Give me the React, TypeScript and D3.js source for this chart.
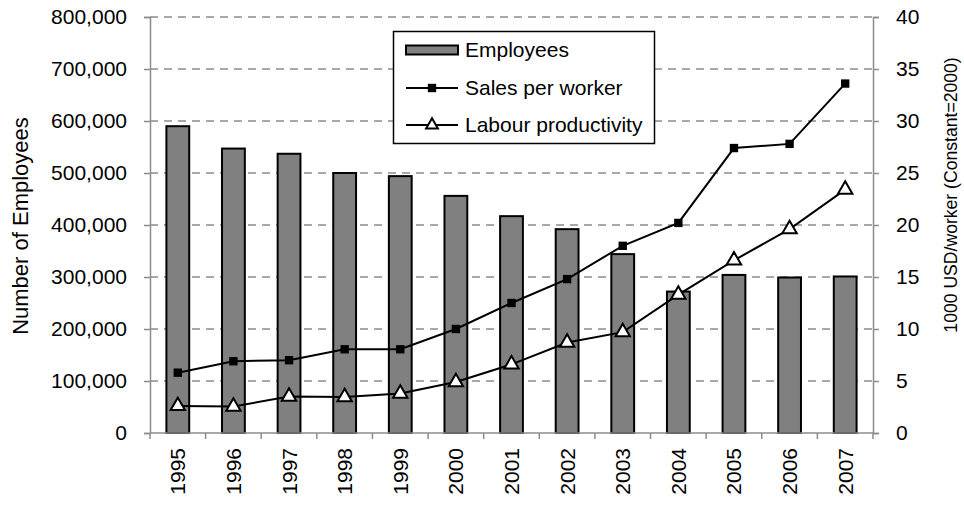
import React, { useEffect, useRef } from "react";
import * as d3 from "d3";

const years = ["1995","1996","1997","1998","1999","2000","2001","2002","2003","2004","2005","2006","2007"];
const employees = [590000, 547000, 537000, 500000, 494000, 456000, 417000, 392000, 344000, 272000, 304000, 299000, 301000];
const salesPerWorker = [5.8, 6.9, 7.0, 8.05, 8.05, 10.0, 12.5, 14.8, 18.0, 20.2, 27.4, 27.8, 33.6];
const labourProductivity = [2.6, 2.55, 3.5, 3.45, 3.8, 4.9, 6.6, 8.7, 9.7, 13.3, 16.6, 19.6, 23.4];
const leftTicks = [0, 100000, 200000, 300000, 400000, 500000, 600000, 700000, 800000];
const rightTicks = [0, 5, 10, 15, 20, 25, 30, 35, 40];

const W = 964, H = 507;
const M = { left: 150, right: 873, top: 17, bottom: 433 };
const FONT = "'Liberation Sans', Arial, sans-serif";
const FS = 21;

export default function App() {
  const ref = useRef<SVGSVGElement>(null);
  useEffect(() => {
    const svg = d3.select(ref.current);
    svg.selectAll("*").remove();
    const x = d3.scaleBand<string>().domain(years).range([M.left, M.right]).paddingInner(0).paddingOuter(0);
    const yL = d3.scaleLinear().domain([0, 800000]).range([M.bottom, M.top]);
    const yR = d3.scaleLinear().domain([0, 40]).range([M.bottom, M.top]);
    const bw = x.bandwidth() * 0.41;
    const cx = (d: string) => (x(d) as number) + x.bandwidth() / 2;

    // gridlines
    svg.append("g").selectAll("line").data(leftTicks.filter(t => t > 0)).join("line")
      .attr("x1", M.left).attr("x2", M.right)
      .attr("y1", d => yL(d)).attr("y2", d => yL(d))
      .attr("stroke", "#8c8c8c").attr("stroke-width", 1.5).attr("stroke-dasharray", "8,6");

    // bars
    svg.append("g").selectAll("rect").data(years).join("rect")
      .attr("x", d => cx(d) - bw / 2).attr("width", bw)
      .attr("y", (d, i) => yL(employees[i])).attr("height", (d, i) => M.bottom - yL(employees[i]))
      .attr("fill", "#808080").attr("stroke", "#000").attr("stroke-width", 2);

    // axes
    const axisColor = "#8c8c8c";
    const left = svg.append("g").attr("transform", `translate(${M.left},0)`)
      .call(d3.axisLeft(yL).tickValues(leftTicks).tickSize(6).tickPadding(17).tickFormat(d3.format(",")));
    const right = svg.append("g").attr("transform", `translate(${M.right},0)`)
      .call(d3.axisRight(yR).tickValues(rightTicks).tickSize(6).tickPadding(17));
    const bottom = svg.append("g").attr("transform", `translate(0,${M.bottom})`)
      .call(d3.axisBottom(x).tickSize(0).tickFormat(() => ""));
    // category boundary ticks
    const bounds = years.map(d => x(d) as number).concat([M.right]);
    svg.append("g").selectAll("line").data(bounds).join("line")
      .attr("x1", d => d).attr("x2", d => d).attr("y1", M.bottom).attr("y2", M.bottom + 6)
      .attr("stroke", axisColor).attr("stroke-width", 1.5);
    [left, right, bottom].forEach(g => {
      g.select(".domain").attr("stroke", axisColor).attr("stroke-width", 1.5);
      g.selectAll(".tick line").attr("stroke", axisColor).attr("stroke-width", 1.5);
      g.selectAll("text").attr("font-family", FONT).attr("font-size", FS).attr("fill", "#000");
    });
    bottom.select(".domain").attr("d", `M${M.left},0H${M.right}`);

    // year labels
    svg.append("g").selectAll("text").data(years).join("text")
      .attr("transform", d => `translate(${cx(d) + 7.5},${M.bottom + 15}) rotate(-90)`)
      .attr("text-anchor", "end").attr("font-family", FONT).attr("font-size", FS).text(d => d);

    // lines
    const lineGen = (vals: number[]) => d3.line<number>().x((v, i) => cx(years[i])).y(v => yR(v))(vals);
    svg.append("path").attr("d", lineGen(salesPerWorker)).attr("fill", "none").attr("stroke", "#000").attr("stroke-width", 2);
    svg.append("path").attr("d", lineGen(labourProductivity)).attr("fill", "none").attr("stroke", "#000").attr("stroke-width", 2);
    const sq = d3.symbol().type(d3.symbolSquare).size(70);
    const tri = d3.symbol().type(d3.symbolTriangle).size(90);
    svg.append("g").selectAll("path").data(salesPerWorker).join("path")
      .attr("transform", (v, i) => `translate(${cx(years[i])},${yR(v)})`).attr("d", sq()).attr("fill", "#000");
    svg.append("g").selectAll("path").data(labourProductivity).join("path")
      .attr("transform", (v, i) => `translate(${cx(years[i])},${yR(v)})`).attr("d", tri())
      .attr("fill", "#fff").attr("stroke", "#000").attr("stroke-width", 2);

    // axis titles
    svg.append("text").attr("transform", `translate(28,226) rotate(-90)`)
      .attr("text-anchor", "middle").attr("font-family", FONT).attr("font-size", 22).text("Number of Employees");
    svg.append("text").attr("transform", `translate(957,195) rotate(-90)`)
      .attr("text-anchor", "middle").attr("font-family", FONT).attr("font-size", 17.6).text("1000 USD/worker (Constant=2000)");

    // legend
    const lg = svg.append("g");
    lg.append("rect").attr("x", 393.5).attr("y", 31.5).attr("width", 261).attr("height", 112)
      .attr("fill", "#fff").attr("stroke", "#000").attr("stroke-width", 1.5);
    const rows = [50, 88, 125];
    lg.append("rect").attr("x", 406).attr("y", rows[0] - 4.5).attr("width", 52).attr("height", 9)
      .attr("fill", "#808080").attr("stroke", "#000").attr("stroke-width", 2);
    [1, 2].forEach(k => {
      lg.append("line").attr("x1", 406).attr("x2", 458).attr("y1", rows[k]).attr("y2", rows[k])
        .attr("stroke", "#000").attr("stroke-width", 2);
    });
    lg.append("path").attr("transform", `translate(432,${rows[1]})`).attr("d", sq()).attr("fill", "#000");
    lg.append("path").attr("transform", `translate(432,${rows[2]})`).attr("d", d3.symbol().type(d3.symbolTriangle).size(60)())
      .attr("fill", "#fff").attr("stroke", "#000").attr("stroke-width", 2);
    ["Employees", "Sales per worker", "Labour productivity"].forEach((t, k) => {
      lg.append("text").attr("x", 465).attr("y", rows[k]).attr("dy", "0.35em")
        .attr("font-family", FONT).attr("font-size", FS).text(t);
    });
  }, []);
  return (
    <div style={{ position: "absolute", left: 0, top: 0 }}>
      <svg ref={ref} width={W} height={H} style={{ display: "block", background: "#fff" }} />
    </div>
  );
}
